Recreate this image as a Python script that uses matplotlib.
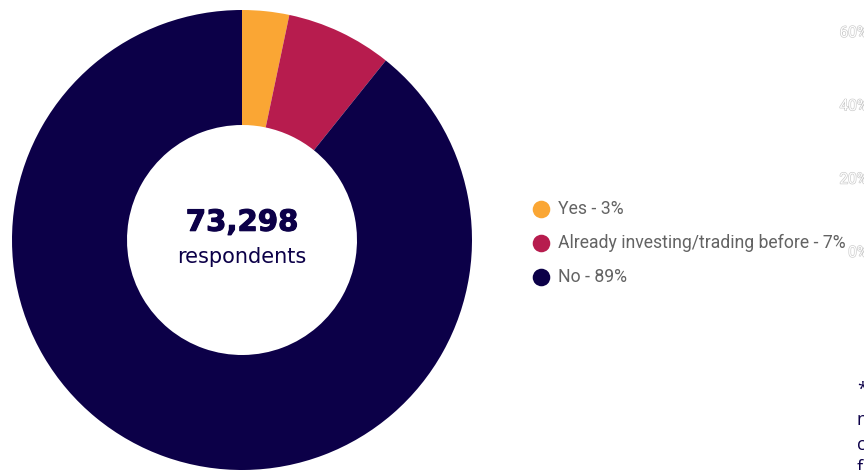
import matplotlib.pyplot as plt
import matplotlib.patheffects as pe

# survey answers
labels = ["Yes", "Already investing/trading before", "No"]
counts = [2420, 5460, 65418]
colors = ["#FAA634", "#B71C4E", "#0C0048"]
total_label = "73,298"
axis_ticks = ["60%", "40%", "20%", "0%"]

W, H = 864, 470
fig = plt.figure(figsize=(W / 100, H / 100), dpi=100)

# donut
cx, cy, r = 242, 240, 230
ax = fig.add_axes([(cx - r) / W, (H - cy - r) / H, 2 * r / W, 2 * r / H])
ax.pie(counts, colors=colors, startangle=90, counterclock=False, radius=1,
       wedgeprops={"width": 0.5, "linewidth": 0})
ax.set_xlim(-1, 1)
ax.set_ylim(-1, 1)
ax.set_aspect("equal")
ax.axis("off")

ax.text(0, 0.075, total_label, ha="center", va="center", fontsize=21,
        fontweight="heavy", color="#0C0048", family="DejaVu Sans",
        path_effects=[pe.withStroke(linewidth=0.8, foreground="#0C0048")])
ax.text(0, -0.075, "respondents", ha="center", va="center", fontsize=15,
        color="#0C0048", family="DejaVu Sans")

# overlay in pixel coordinates for the legend and side text
ov = fig.add_axes([0, 0, 1, 1], zorder=-1)
ov.set_xlim(0, W)
ov.set_ylim(H, 0)
ov.axis("off")

total = sum(counts)
for i, (lab, c, col) in enumerate(zip(labels, counts, colors)):
    y = 209 + i * 34
    ov.scatter([541], [y], s=160, color=col, linewidths=0)
    ov.text(558, y, f"{lab} - {round(100 * c / total)}%", ha="left", va="center",
            fontsize=12.7, color="#636363", family="Roboto")

# faint axis labels of the neighbouring panel
for i, t in enumerate(axis_ticks):
    ov.text(868, 33 + i * 73.3, t, ha="right", va="center", fontsize=11,
            color="white", family="Roboto",
            path_effects=[pe.withStroke(linewidth=0.9, foreground="#c8c8c8")])

# clipped footnote on the right edge
for y, t in [(390, "*"), (420, "n"), (445, "c"), (468, "f")]:
    ov.text(857, y, t, ha="left", va="center", fontsize=13, color="#0C0048",
            family="Open Sans")

fig.savefig("out.png", dpi=100)
